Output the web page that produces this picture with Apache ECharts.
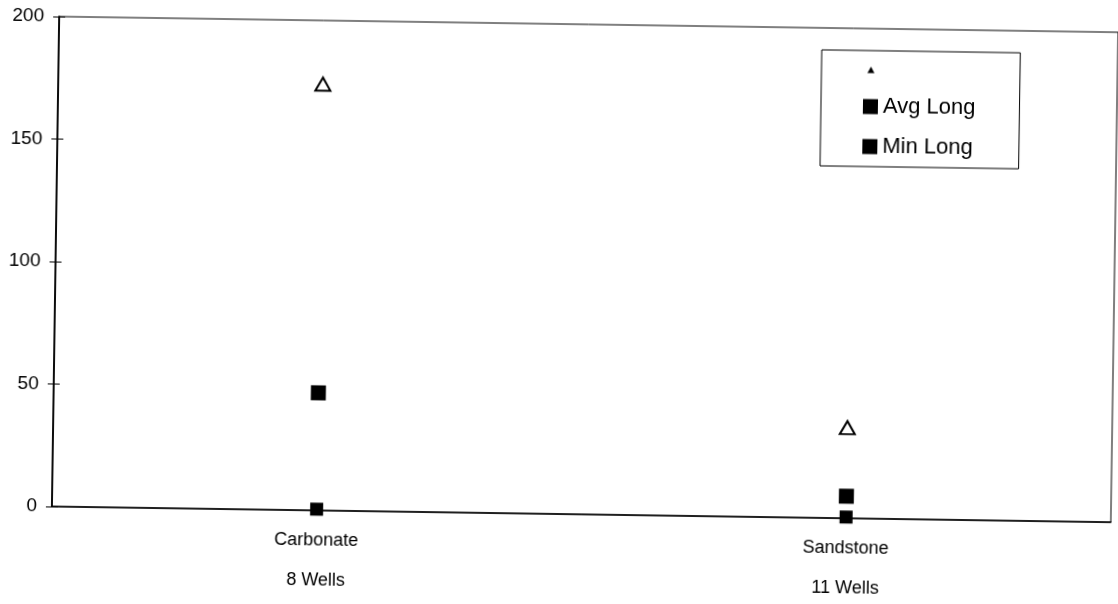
<!DOCTYPE html>
<html>
<head>
<meta charset="utf-8">
<script src="https://cdn.jsdelivr.net/npm/echarts@6/dist/echarts.min.js"></script>
<style>
  html, body { margin: 0; padding: 0; background: #fff; overflow: hidden; }
  #chart { width: 1118px; height: 604px; transform: rotate(0.85deg); transform-origin: 559px 302px; }
</style>
</head>
<body>
<div id="chart"></div>
<script>
// Lithology groups and the number of wells in each
const categories = ['Carbonate\n8 Wells', 'Sandstone\n11 Wells'];

// Long values per group
const maxLong = [174, 37];
const avgLong = [48, 9];
const minLong = [0.5, 0.5];

// Value axis range
const yMin = 0;
const yMax = 200;
const yStep = 50;

const FONT = '"Liberation Sans", Arial, sans-serif';

// Small filled triangle used as the legend key for the maximum series
const triIcon = 'image://data:image/svg+xml;utf8,' + encodeURIComponent(
  '<svg xmlns="http://www.w3.org/2000/svg" width="15" height="15">' +
  '<path d="M7.5 4 L11 10.5 L4 10.5 Z" fill="#000"/></svg>');

const chart = echarts.init(document.getElementById('chart'), null, { renderer: 'canvas' });

chart.setOption({
  animation: false,
  backgroundColor: '#fff',
  grid: {
    left: 55, top: 24, right: 4, bottom: 86.5,
    show: true, borderColor: '#000', borderWidth: 1, backgroundColor: 'transparent'
  },
  legend: {
    orient: 'vertical',
    left: 818, top: 46,
    padding: [12, 44, 9, 42],
    itemWidth: 15, itemHeight: 15, itemGap: 18,
    borderColor: '#000', borderWidth: 1,
    textStyle: { fontFamily: FONT, fontSize: 22, color: '#000', lineHeight: 22 },
    formatter: function (name) { return name === 'Max Long' ? '' : name; },
    data: [
      { name: 'Max Long', icon: triIcon },
      { name: 'Avg Long', icon: 'rect', itemStyle: { color: '#000', borderWidth: 0 } },
      { name: 'Min Long', icon: 'path://M1,1 L14,1 L14,14 L1,14 Z', itemStyle: { color: '#000', borderWidth: 0 } }
    ]
  },
  xAxis: {
    type: 'category',
    data: categories,
    boundaryGap: true,
    axisLine: { lineStyle: { color: '#000', width: 1.5 } },
    axisTick: { show: false },
    axisLabel: { fontFamily: FONT, fontSize: 18, color: '#000', lineHeight: 40, margin: 10 },
    splitLine: { show: false }
  },
  yAxis: [
    {
      type: 'value', min: yMin, max: yMax, interval: yStep,
      axisLine: { show: true, lineStyle: { color: '#000', width: 1.8 } },
      axisTick: { show: true, length: 6, lineStyle: { color: '#000', width: 1 } },
      axisLabel: { fontFamily: FONT, fontSize: 19, color: '#000', margin: 15 },
      splitLine: { show: false }
    },
    {
      // inner half of the crossing tick marks
      type: 'value', min: yMin, max: yMax, interval: yStep, position: 'left',
      axisLine: { show: false },
      axisTick: { show: true, inside: true, length: 6, lineStyle: { color: '#000', width: 1 } },
      axisLabel: { show: false },
      splitLine: { show: false }
    }
  ],
  series: [
    {
      name: 'Max Long', type: 'scatter', data: maxLong,
      symbol: 'triangle', symbolSize: [15, 13],
      itemStyle: { color: '#fff', borderColor: '#000', borderWidth: 2, opacity: 1 },
      z: 3
    },
    {
      name: 'Avg Long', type: 'scatter', data: avgLong,
      symbol: 'rect', symbolSize: 15,
      itemStyle: { color: '#000', opacity: 1 },
      z: 3
    },
    {
      name: 'Min Long', type: 'scatter', data: minLong,
      symbol: 'rect', symbolSize: 13,
      itemStyle: { color: '#000', opacity: 1 },
      z: 3
    }
  ]
});
</script>
</body>
</html>
